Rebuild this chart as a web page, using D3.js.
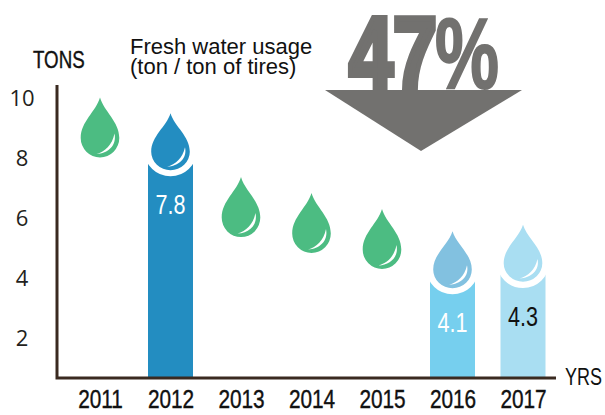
<!DOCTYPE html>
<html>
<head>
<meta charset="utf-8">
<script src="https://cdnjs.cloudflare.com/ajax/libs/d3/7.8.5/d3.min.js"></script>
<style>
  html, body { margin: 0; padding: 0; background: #fff; }
  text { font-family: "Liberation Sans", sans-serif; }
</style>
</head>
<body>
<div id="viz"></div>
<script>
// data
var years = ["2011", "2012", "2013", "2014", "2015", "2016", "2017"];
var usage = [8.2, 7.8, 5.7, 5.2, 4.7, 4.1, 4.3];
var barYears = ["2012", "2016", "2017"];
var barColors = ["#238dc1", "#76cfee", "#a9def2"];
var dropColors = ["#238dc1", "#82c1e0", "#a9def2"];
var labelColors = ["#ffffff", "#ffffff", "#111111"];
var yTicks = [2, 4, 6, 8, 10];
var titleLines = ["Fresh water usage", "(ton / ton of tires)"];

var svg = d3.select("#viz").append("svg")
    .attr("width", 605)
    .attr("height", 415)
    .style("display", "block");

var x = d3.scalePoint().domain(years).range([100, 523]);
// bars and drops sit on this one
var y = d3.scaleLinear().domain([1, 10]).range([378, 91]);
// the printed tick labels are not quite lined up with the marks in the original
var yLabels = d3.scaleLinear().domain([2, 10]).range([338, 98]);

var dropPath = "M0,-60 C-4,-46 -19.3,-36 -19.3,-19.5 A19.3,19.5 0 0 0 19.3,-19.5 C19.3,-36 4,-46 0,-60 Z";
var shinePath = "M14.5,-24 C17,-12 8,-4 -3.5,-3.5 C5,-6 12,-12 14.5,-24 Z";

var rows = years.map(function (d, i) { return { year: d, value: usage[i], bar: barYears.indexOf(d) }; });
var barRows = rows.filter(function (d) { return d.bar >= 0; });

// bars
svg.selectAll(".bar")
    .data(barRows)
    .enter()
    .append("rect")
    .attr("class", "bar")
    .attr("x", function (d) { return x(d.year) - 22.5; })
    .attr("y", function (d) { return y(d.value); })
    .attr("width", 45)
    .attr("height", function (d) { return y(1) - y(d.value); })
    .attr("fill", function (d) { return barColors[d.bar]; });

// drops, the ones over a bar get a white ring
var drops = svg.selectAll(".drop")
    .data(rows)
    .enter()
    .append("g")
    .attr("class", "drop")
    .attr("transform", function (d) {
        return "translate(" + x(d.year) + "," + (y(d.value) + 9) + ")" + (d.bar >= 0 ? " scale(1,0.95)" : "");
    });

drops.filter(function (d) { return d.bar >= 0; })
    .append("path")
    .attr("d", dropPath)
    .attr("fill", "#fff")
    .attr("stroke", "#fff")
    .attr("stroke-width", 13);

drops.append("path")
    .attr("d", dropPath)
    .attr("fill", function (d) { return d.bar >= 0 ? dropColors[d.bar] : "#4cbc82"; });

drops.append("path")
    .attr("d", shinePath)
    .attr("fill", "#fff");

// bar values
svg.selectAll(".val")
    .data(barRows)
    .enter()
    .append("text")
    .attr("class", "val")
    .attr("transform", function (d) {
        return "translate(" + x(d.year) + "," + (y(d.value) + 53) + ") scale(0.8,1)";
    })
    .attr("text-anchor", "middle")
    .style("font-size", "27px")
    .attr("fill", function (d) { return labelColors[d.bar]; })
    .text(function (d) { return d.value.toFixed(1); });

// axes
var yAxis = svg.append("g")
    .attr("transform", "translate(22,0)")
    .call(d3.axisLeft(yLabels).tickValues(yTicks).tickSize(0).tickPadding(0));
yAxis.select(".domain").remove();
yAxis.selectAll("text")
    .attr("x", 0)
    .attr("text-anchor", "middle")
    .style("font-family", "'Open Sans'")
    .style("font-size", "22px")
    .attr("fill", "#231f20");

var xAxis = svg.append("g")
    .attr("transform", "translate(0,378)")
    .call(d3.axisBottom(x).tickSize(0).tickPadding(12));
xAxis.select(".domain").remove();
xAxis.selectAll("text")
    .attr("transform", "scale(0.8,1)")
    .style("font-family", "'Liberation Sans'")
    .style("font-size", "26px")
    .attr("fill", "#111")
    .attr("stroke", "#111")
    .attr("stroke-width", 0.4);

svg.append("path")
    .attr("d", "M57,85 V378 H556")
    .attr("fill", "none")
    .attr("stroke", "#3a2a20")
    .attr("stroke-width", 3);

// axis names
svg.append("text")
    .attr("transform", "translate(33,68) scale(0.78,1)")
    .style("font-size", "24px")
    .attr("fill", "#111")
    .attr("stroke", "#111")
    .attr("stroke-width", 0.4)
    .text("TONS");

svg.append("text")
    .attr("transform", "translate(565,385) scale(0.75,1)")
    .style("font-size", "24px")
    .attr("fill", "#111")
    .text("YRS");

// title
svg.selectAll(".title")
    .data(titleLines)
    .enter()
    .append("text")
    .attr("class", "title")
    .attr("x", 130)
    .attr("y", function (d, i) { return 54 + i * 19.5; })
    .style("font-size", "22px")
    .attr("fill", "#111")
    .text(function (d) { return d; });

// big 47% with the arrow under it
svg.append("text")
    .attr("transform", "translate(349,90) scale(0.76,1)")
    .style("font-size", "104px")
    .style("font-weight", "bold")
    .attr("fill", "#72716f")
    .attr("stroke", "#72716f")
    .attr("stroke-width", 6)
    .attr("stroke-linejoin", "miter")
    .text("47");

svg.append("text")
    .attr("transform", "translate(435,88) scale(0.72,1)")
    .style("font-size", "100px")
    .style("font-weight", "bold")
    .attr("fill", "#72716f")
    .attr("stroke", "#72716f")
    .attr("stroke-width", 2)
    .text("%");

svg.append("path")
    .attr("d", "M325,90 H522 L421,151 Z")
    .attr("fill", "#72716f");
</script>
</body>
</html>
